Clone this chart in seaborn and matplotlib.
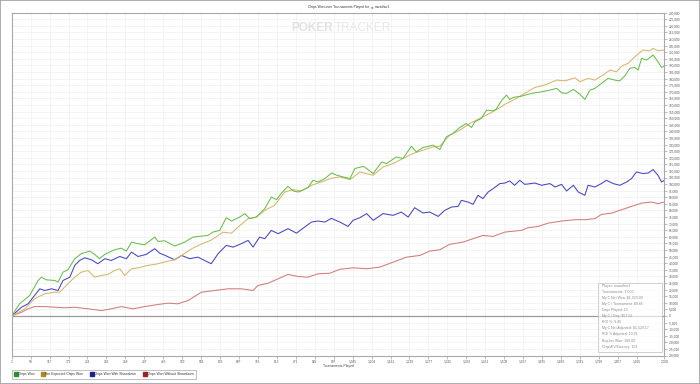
import matplotlib
matplotlib.use("Agg")
import matplotlib.pyplot as plt
from matplotlib.lines import Line2D
from matplotlib.patches import Rectangle
import pandas as pd
import seaborn as sns

# ---------------- data ----------------
series_names = ["Chips Won", "Net Expected Chips Won",
                "Chips Won With Showdown", "Chips Won Without Showdown"]

chips_won_t = [1, 25, 56, 82, 92, 107, 133, 143, 158, 173, 194, 214, 240, 255, 270, 286, 316, 337, 352, 368,
               388, 408, 439, 449, 470, 500, 531, 556, 602, 617, 638, 658, 674, 699, 715, 730, 750, 776, 796,
               812, 827, 847, 863, 878, 908, 924, 939, 960, 981, 996, 1037, 1052, 1078, 1088, 1108, 1134,
               1149, 1179, 1199, 1225, 1240, 1260, 1291, 1312, 1332, 1352, 1373, 1393, 1409, 1419, 1439,
               1455, 1475, 1485, 1500, 1516, 1526, 1536, 1562, 1593, 1624, 1649, 1670, 1685, 1700, 1721,
               1741, 1756, 1772, 1787, 1807, 1827, 1848, 1863, 1878, 1894, 1909, 1919, 1930, 1945, 1965,
               1980, 1991, 2000]
chips_won_v = [0, 9200, 15500, 26900, 29400, 27400, 26900, 25600, 33200, 35000, 43400, 47200, 49200, 46700,
               43400, 46700, 50200, 51400, 49200, 56000, 54800, 54000, 59800, 56500, 57000, 53000, 56000,
               59800, 61100, 63600, 64900, 74500, 72000, 75000, 77600, 73800, 75000, 81400, 90200, 88200,
               93200, 98300, 94800, 94000, 97300, 102900, 101600, 104200, 108500, 106700, 104200, 111800,
               113500, 111800, 108000, 116800, 115600, 120600, 119400, 128700, 124400, 127700, 129500,
               126200, 135800, 138400, 142900, 146000, 142900, 147200, 149800, 156100, 155500, 157000,
               163000, 167500, 164200, 165700, 166700, 168800, 170000, 171300, 172600, 169200, 168800,
               171800, 168200, 164200, 171300, 172600, 176400, 180200, 178900, 178300, 181900, 187800,
               188500, 186500, 195400, 194100, 197900, 192800, 188500, 189500]

net_expected_t = [1, 41, 71, 102, 133, 148, 173, 194, 214, 235, 255, 276, 296, 316, 332, 347, 368, 388, 418,
                  449, 480, 500, 531, 556, 582, 612, 648, 674, 694, 725, 750, 776, 806, 837, 863, 888, 919,
                  949, 980, 1006, 1037, 1067, 1108, 1138, 1169, 1199, 1230, 1260, 1291, 1312, 1342, 1373,
                  1404, 1434, 1465, 1496, 1511, 1541, 1572, 1603, 1633, 1670, 1695, 1726, 1741, 1766, 1787,
                  1812, 1833, 1853, 1869, 1889, 1909, 1934, 1955, 1965, 1980, 2000]
net_expected_v = [0, 5400, 13000, 16800, 18000, 18000, 24400, 29400, 33200, 34500, 29400, 30700, 31500,
                  34500, 35800, 30700, 35800, 36500, 38300, 39600, 41600, 42600, 47500, 51500, 54500, 57500,
                  63500, 62800, 67400, 73800, 75000, 80100, 83900, 94000, 95800, 94800, 99100, 101600,
                  104500, 105400, 103400, 109200, 106700, 113000, 115600, 119400, 123200, 125700, 128200,
                  128700, 137100, 140900, 146000, 149800, 153600, 158000, 160500, 164200, 168800, 173300,
                  175100, 178900, 178300, 180600, 177600, 180200, 178900, 182700, 186500, 185200, 189500,
                  191600, 196600, 201700, 201100, 203000, 201100, 201700]

showdown_t = [1, 31, 51, 71, 87, 102, 123, 143, 158, 179, 194, 209, 225, 245, 265, 286, 306, 332, 352, 368,
              388, 413, 439, 454, 470, 500, 521, 546, 571, 612, 633, 658, 679, 704, 725, 740, 760, 776, 796,
              817, 847, 873, 898, 919, 939, 960, 980, 1006, 1031, 1046, 1067, 1088, 1108, 1138, 1169, 1194,
              1215, 1235, 1260, 1281, 1307, 1327, 1348, 1368, 1378, 1398, 1414, 1429, 1444, 1460, 1475, 1496,
              1511, 1526, 1541, 1557, 1572, 1603, 1624, 1649, 1665, 1685, 1700, 1721, 1736, 1756, 1766, 1787,
              1807, 1822, 1843, 1863, 1884, 1899, 1914, 1934, 1950, 1965, 1980, 1991, 2000]
showdown_v = [0, 6600, 9200, 15500, 20600, 19300, 20600, 19300, 26900, 29400, 38300, 42100, 44100, 42600,
              39600, 43400, 42100, 45100, 43400, 48400, 45100, 46700, 51000, 47600, 46000, 42600, 45900,
              43400, 44600, 39600, 47200, 53500, 52200, 54800, 57300, 52200, 59800, 58600, 64900, 62400,
              66200, 62800, 67400, 71200, 72000, 71200, 74000, 71200, 67900, 72500, 74500, 77600, 72500,
              77600, 76300, 78800, 75000, 82100, 78100, 78800, 75500, 80100, 82600, 83100, 87700, 86400,
              84700, 91500, 89000, 94000, 96500, 100400, 100800, 102400, 99100, 102900, 99800, 100800,
              99100, 100400, 97800, 99800, 94800, 99100, 94000, 91500, 99100, 97800, 100400, 102900, 100400,
              99100, 101600, 104200, 109200, 108000, 108400, 111000, 106700, 101600, 102900]

no_showdown_t = [1, 31, 51, 71, 102, 133, 163, 194, 235, 276, 306, 337, 372, 408, 449, 480, 510, 541, 582,
                 623, 663, 704, 740, 755, 786, 817, 847, 878, 908, 939, 975, 1006, 1046, 1088, 1128, 1169,
                 1210, 1251, 1281, 1312, 1342, 1383, 1414, 1444, 1475, 1511, 1562, 1582, 1613, 1644, 1685,
                 1726, 1756, 1787, 1807, 1838, 1869, 1899, 1930, 1960, 1980, 2000]
no_showdown_v = [0, 2800, 5400, 7100, 7100, 6600, 6200, 6600, 5400, 4100, 5400, 7100, 5400, 7100, 8700,
                 9700, 9200, 11700, 18000, 19300, 20600, 20600, 19300, 23100, 24800, 28200, 31500, 29900,
                 29400, 32000, 32400, 35400, 36500, 35800, 37000, 40800, 44600, 45900, 49200, 50200, 54300,
                 56000, 58600, 61100, 60300, 63600, 64900, 66900, 67900, 70400, 72000, 73000, 73000, 73800,
                 77000, 78000, 80600, 83100, 85600, 86400, 85200, 86400]

x_tick_values = [1, 59, 117, 175, 233, 291, 349, 407, 465, 523, 581, 639, 697, 755, 813, 871, 929, 987,
                 1045, 1103, 1161, 1219, 1277, 1335, 1393, 1451, 1509, 1567, 1625, 1683, 1741, 1799, 1857,
                 1915, 2000]
y_tick_values = list(range(-30000, 230001, 5000))

stats_lines = ["Player: marathur1", "Tournaments: 2,000", "My C Net Won: \\$1,323.00",
               "My C / Tournament: \\$0.66", "Days Played: 23", "My C / Day: \\$57.52", "ROI %: 9.45",
               "My C Net Adjusted: \\$1,529.17", "ROI % Adjusted: 10.92", "Buy-Ins Won: 189.00",
               "ChipsEV/Tourney: 102"]

line_colors = ["#68bd4c", "#d6b66e", "#4444c4", "#d47a78"]
legend_colors = ["#2f8f2f", "#a88a1e", "#1f1f8f", "#a02222"]

# ---------------- build long table ----------------
frames = []
for name, t, v in zip(series_names,
                      [chips_won_t, net_expected_t, showdown_t, no_showdown_t],
                      [chips_won_v, net_expected_v, showdown_v, no_showdown_v]):
    frames.append(pd.DataFrame({"Tournament": t, "Chips": v, "Series": name}))
df = pd.concat(frames, ignore_index=True)

# ---------------- figure ----------------
sns.set_theme(style="white")
plt.rcParams["font.family"] = ["Liberation Sans", "DejaVu Sans"]

W, H = 700, 384
fig = plt.figure(figsize=(W / 100, H / 100), dpi=100)
fig.patch.set_facecolor("white")

left_px, right_px, top_px, bottom_px = 11.7, 664.5, 12.7, 355.5
ax = fig.add_axes([left_px / W, 1 - bottom_px / H, (right_px - left_px) / W, (bottom_px - top_px) / H])

# watermark
fig.text(333 / W, 1 - 28 / H, "POKER", ha="right", va="center", fontsize=8.5,
         fontweight="bold", color="#e2e2e2", zorder=0)
fig.text(335 / W, 1 - 28 / H, "TRACKER", ha="left", va="center", fontsize=8.5,
         color="#e8e8e8", zorder=0)

ax.set_facecolor("none")
draw_order = [series_names[3], series_names[2], series_names[1], series_names[0]]
sns.lineplot(data=df, x="Tournament", y="Chips", hue="Series", hue_order=draw_order,
             palette=dict(zip(series_names, line_colors)), estimator=None, sort=True,
             linewidth=0.75, legend=False, ax=ax)

ax.axhline(0, color="#9a9a9a", lw=0.9, zorder=1)

ax.set_xlim(1, 2000)
ax.set_ylim(-30000, 230000)
ax.set_xticks(x_tick_values)
ax.set_xticklabels([f"{v:,}" for v in x_tick_values])
ax.set_yticks(y_tick_values)
ax.set_yticklabels([f"{v:,}" for v in y_tick_values])
ax.yaxis.tick_right()
ax.tick_params(axis="both", labelsize=2.3, labelcolor="#555555", color="#888888",
               length=2, width=0.4, pad=1)
ax.tick_params(axis="x", bottom=True)
ax.tick_params(axis="y", right=True, left=False)
ax.grid(True, color="#f0f0f0", lw=0.5)
ax.set_axisbelow(True)
for s in ax.spines.values():
    s.set_color("#a8a8a8")
    s.set_linewidth(0.8)

ax.set_ylabel("")
ax.set_xlabel("Tournaments Played", fontsize=2.4, color="#444444")
ax.xaxis.set_label_coords(0.5, -(365.5 - bottom_px) / (bottom_px - top_px))
ax.xaxis.label.set_va("center")

# title
ty = 1 - 6.7 / H
fig.text(369 / W, ty, "Chips Won over Tournaments Played for", ha="right", va="center",
         fontsize=2.4, color="#333333")
fig.text(372 / W, ty, "\u25CF", ha="center", va="center", fontsize=3.2, color="#e0502a")
fig.text(375 / W, ty, "marathur1", ha="left", va="center", fontsize=2.4, color="#333333")

# stats box
fig.add_artist(Rectangle((598 / W, 1 - 351.7 / H), 64 / W, 69 / H, transform=fig.transFigure,
                         facecolor="white", alpha=0.65, edgecolor="none", zorder=3))
fig.add_artist(Rectangle((598 / W, 1 - 351.7 / H), 64 / W, 69 / H, transform=fig.transFigure,
                         facecolor="none", edgecolor="#c8c8c8", lw=0.6, zorder=4))
for i, line in enumerate(stats_lines):
    fig.text(602 / W, 1 - (285.7 + i * 6.1) / H, line, ha="left", va="center",
             fontsize=2.5, color="#8a8a8a", zorder=5)

# legend
handles = [Line2D([], [], marker="s", linestyle="none", markersize=2.2, markerfacecolor=c,
                  markeredgecolor=c) for c in legend_colors]
leg = fig.legend(handles, series_names, loc="upper left", bbox_to_anchor=(11.5 / W, 1 - 369.5 / H),
                 ncol=4, fontsize=2.4, frameon=True, fancybox=False, handlelength=0.8,
                 handletextpad=0.3, columnspacing=2.2, borderpad=0.8, borderaxespad=0)
leg.get_frame().set_edgecolor("#909090")
leg.get_frame().set_linewidth(0.5)
for t in leg.get_texts():
    t.set_color("#333333")

# outer frame lines
fig.add_artist(Rectangle((0, 0), 1, 1, transform=fig.transFigure, facecolor="none",
                         edgecolor="#a0a0a0", lw=1.2, zorder=10))

fig.savefig("out.png", dpi=100)
